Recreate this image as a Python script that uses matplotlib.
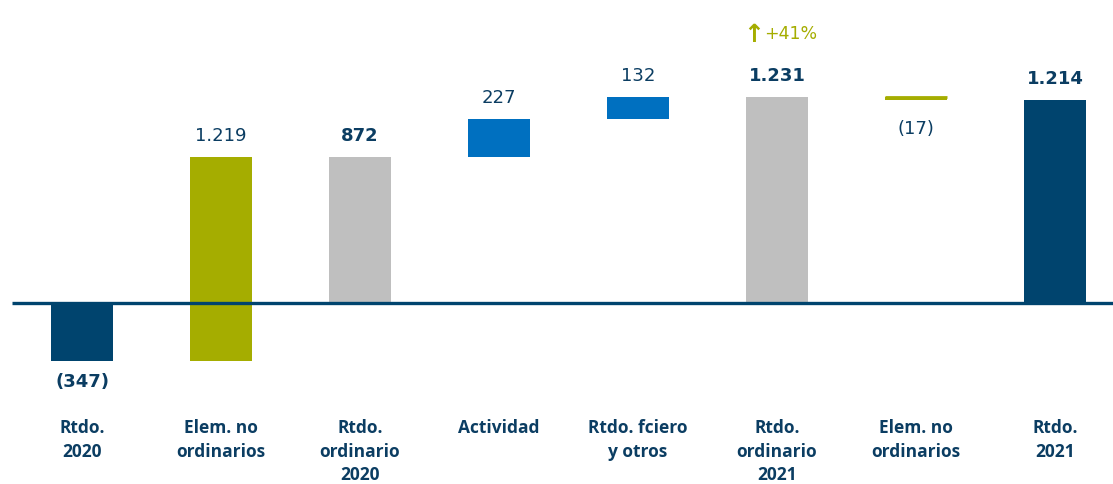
import matplotlib

matplotlib.use("Agg")
import matplotlib.pyplot as plt
import matplotlib.transforms as mtransforms

plt.rcParams["font.family"] = ["Open Sans", "DejaVu Sans"]

NAVY = "#00446E"
GREEN = "#A5AD00"
GREY = "#BFBFBF"
BLUE = "#0070C0"
TEXT = "#0B3D62"

categories = ["Rtdo.\n2020", "Elem. no\nordinarios", "Rtdo.\nordinario\n2020", "Actividad",
              "Rtdo. fciero\ny otros", "Rtdo.\nordinario\n2021", "Elem. no\nordinarios", "Rtdo.\n2021"]
deltas = [-347, 1219, None, 227, 132, None, -17, None]   # None = subtotal bar
labels = ["(347)", "1.219", "872", "227", "132", "1.231", "(17)", "1.214"]
bold_labels = [True, False, True, False, False, True, False, True]
colors = [NAVY, GREEN, GREY, BLUE, BLUE, GREY, GREEN, NAVY]
growth = "+41%"

# waterfall: each step starts where the previous one ended, subtotals start at 0
bottoms, heights = [], []
running = 0
for d in deltas:
    if d is None:
        bottoms.append(0)
        heights.append(running)
    else:
        bottoms.append(running)
        heights.append(d)
        running += d

fig = plt.figure(figsize=(11.13, 4.84), dpi=100)
ax = fig.add_axes([0, 0, 1, 1])
ax.set_xlim(-0.59, 7.417)
ax.set_ylim(-1081, 1810)
ax.axis("off")

x = list(range(len(categories)))
ax.bar(x, heights, bottom=bottoms, width=0.45, color=colors, zorder=2)

# the small decrease is only a thin line at this scale
ax.plot([6 - 0.225, 6 + 0.225], [bottoms[6], bottoms[6]], color=GREEN, lw=2, zorder=3,
        solid_capstyle="butt")

# baseline
ax.plot([-0.505, 7.417], [0, 0], color=NAVY, lw=2.4, zorder=4, solid_capstyle="butt")

VAL = dict(fontsize=13, color=TEXT, family="DejaVu Sans")
for i in x:
    top = bottoms[i] + heights[i]
    hi, lo = max(bottoms[i], top), min(bottoms[i], top)
    fw = "bold" if bold_labels[i] else "normal"
    if i == 0:
        ax.text(i, lo - 70, labels[i], ha="center", va="top", fontweight=fw, **VAL)
    elif i == 6:
        ax.text(i, lo - 120, labels[i], ha="center", va="top", fontweight=fw, **VAL)
    else:
        ax.text(i, hi + 70, labels[i], ha="center", va="bottom", fontweight=fw, **VAL)

# growth marker above ordinary result 2021
ax.text(4.91, 1231 + 300, "↑", ha="right", va="bottom", fontsize=18, color=GREEN,
        fontweight="bold", family="DejaVu Sans")
ax.text(4.91, 1231 + 320, growth, ha="left", va="bottom", fontsize=12.5, color=GREEN,
        family="DejaVu Sans")

trans = mtransforms.blended_transform_factory(ax.transData, ax.transAxes)
for i, c in enumerate(categories):
    ax.text(i, 1 - 419 / 484, c, transform=trans, ha="center", va="top", fontsize=12.5,
            color=TEXT, fontweight="bold", linespacing=1.40)

fig.savefig("out.png", dpi=100, facecolor="white")
